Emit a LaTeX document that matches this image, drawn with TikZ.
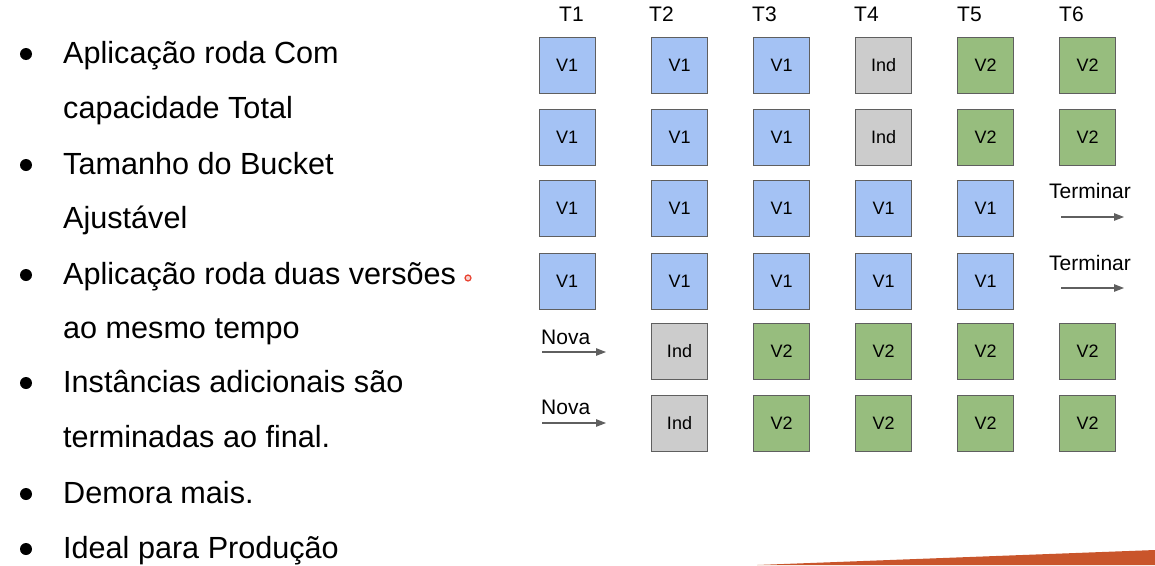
\documentclass[tikz,border=0pt]{standalone}
\usepackage{fontspec}
\setmainfont{Liberation Sans}
\usetikzlibrary{arrows.meta}
\definecolor{bluebox}{HTML}{A4C2F4}
\definecolor{greenbox}{HTML}{97BD7E}
\definecolor{graybox}{HTML}{CCCCCC}
\definecolor{boxline}{HTML}{5F5F5F}
\definecolor{arrowgray}{HTML}{5F5F5F}
\definecolor{wedge}{HTML}{C9552B}
\definecolor{laser}{HTML}{E8412F}
\begin{document}
\begin{tikzpicture}[x=1pt,y=-1pt,
  box/.style={draw=boxline,line width=1pt,minimum size=56pt,inner sep=0pt,font=\fontsize{18}{18}\selectfont},
  vone/.style={box,fill=bluebox},
  vtwo/.style={box,fill=greenbox},
  indbox/.style={box,fill=graybox},
  lbl/.style={anchor=base west,inner sep=0pt,font=\fontsize{21}{21}\selectfont},
  bul/.style={anchor=base west,inner sep=0pt,font=\fontsize{30.6}{30.6}\selectfont},
  bdot/.style={fill=black,circle,minimum size=12pt,inner sep=0pt},
  arr/.style={draw=arrowgray,line width=1.1pt,-{Triangle[length=10pt,width=7.5pt]}}]
\useasboundingbox (0,0) rectangle (1155,565);
% bottom wedge
\fill[wedge] (757,565) -- (1155,550) -- (1155,565) -- cycle;
% left bullet list
\node[bdot] (b1) at (26,54) {};
\node[bdot] (b2) at (26,165) {};
\node[bdot] (b3) at (26,275) {};
\node[bdot] (b4) at (26,383) {};
\node[bdot] (b5) at (26,494) {};
\node[bdot] (b6) at (26,549) {};
\node[bul] (l1) at (63,63) {Aplicação roda Com};
\node[bul] (l2) at (63,118) {capacidade Total};
\node[bul] (l3) at (63,174) {Tamanho do Bucket};
\node[bul] (l4) at (63,228) {Ajustável};
\node[bul] (l5) at (63,284) {Aplicação roda duas versões};
\node[bul] (l6) at (63,338) {ao mesmo tempo};
\node[bul] (l7) at (63,392) {Instâncias adicionais são};
\node[bul] (l8) at (63,447) {terminadas ao final.};
\node[bul] (l9) at (63,503) {Demora mais.};
\node[bul] (l10) at (63,558) {Ideal para Produção};
% laser pointer dot
\node[circle,draw=laser,fill=laser!25,line width=1.2pt,minimum size=6pt,inner sep=0pt] (laserdot) at (468,278) {};
% column headers
\node[lbl] (t1) at (559,21) {T1};
\node[lbl] (t2) at (649,21) {T2};
\node[lbl] (t3) at (752,21) {T3};
\node[lbl] (t4) at (854,21) {T4};
\node[lbl] (t5) at (957,21) {T5};
\node[lbl] (t6) at (1059,21) {T6};
% row 1
\node[vone]   (r1c1) at (567,65) {V1};
\node[vone]   (r1c2) at (679.5,65) {V1};
\node[vone]   (r1c3) at (781.5,65) {V1};
\node[indbox] (r1c4) at (883.5,65) {Ind};
\node[vtwo]   (r1c5) at (985.5,65) {V2};
\node[vtwo]   (r1c6) at (1087.5,65) {V2};
% row 2
\node[vone]   (r2c1) at (567,137) {V1};
\node[vone]   (r2c2) at (679.5,137) {V1};
\node[vone]   (r2c3) at (781.5,137) {V1};
\node[indbox] (r2c4) at (883.5,137) {Ind};
\node[vtwo]   (r2c5) at (985.5,137) {V2};
\node[vtwo]   (r2c6) at (1087.5,137) {V2};
% row 3
\node[vone] (r3c1) at (567,208.5) {V1};
\node[vone] (r3c2) at (679.5,208.5) {V1};
\node[vone] (r3c3) at (781.5,208.5) {V1};
\node[vone] (r3c4) at (883.5,208.5) {V1};
\node[vone] (r3c5) at (985.5,208.5) {V1};
% row 4
\node[vone] (r4c1) at (567,281) {V1};
\node[vone] (r4c2) at (679.5,281) {V1};
\node[vone] (r4c3) at (781.5,281) {V1};
\node[vone] (r4c4) at (883.5,281) {V1};
\node[vone] (r4c5) at (985.5,281) {V1};
% row 5
\node[indbox] (r5c2) at (679.5,351) {Ind};
\node[vtwo]   (r5c3) at (781.5,351) {V2};
\node[vtwo]   (r5c4) at (883.5,351) {V2};
\node[vtwo]   (r5c5) at (985.5,351) {V2};
\node[vtwo]   (r5c6) at (1087.5,351) {V2};
% row 6
\node[indbox] (r6c2) at (679.5,423) {Ind};
\node[vtwo]   (r6c3) at (781.5,423) {V2};
\node[vtwo]   (r6c4) at (883.5,423) {V2};
\node[vtwo]   (r6c5) at (985.5,423) {V2};
\node[vtwo]   (r6c6) at (1087.5,423) {V2};
% terminar labels and arrows
\node[lbl] (term1) at (1049,198) {Terminar};
\node[lbl] (term2) at (1049,270) {Terminar};
\coordinate (ta1) at (1061,217);
\coordinate (tb1) at (1124,217);
\coordinate (ta2) at (1061,288);
\coordinate (tb2) at (1124,288);
\draw[arr] (ta1) -- (tb1);
\draw[arr] (ta2) -- (tb2);
% nova labels and arrows
\node[lbl] (nova1) at (541,344) {Nova};
\node[lbl] (nova2) at (541,414) {Nova};
\coordinate (na1) at (542,352);
\coordinate (nb1) at (606,352);
\coordinate (na2) at (542,423);
\coordinate (nb2) at (606,423);
\draw[arr] (na1) -- (nb1);
\draw[arr] (na2) -- (nb2);
\end{tikzpicture}
\end{document}
